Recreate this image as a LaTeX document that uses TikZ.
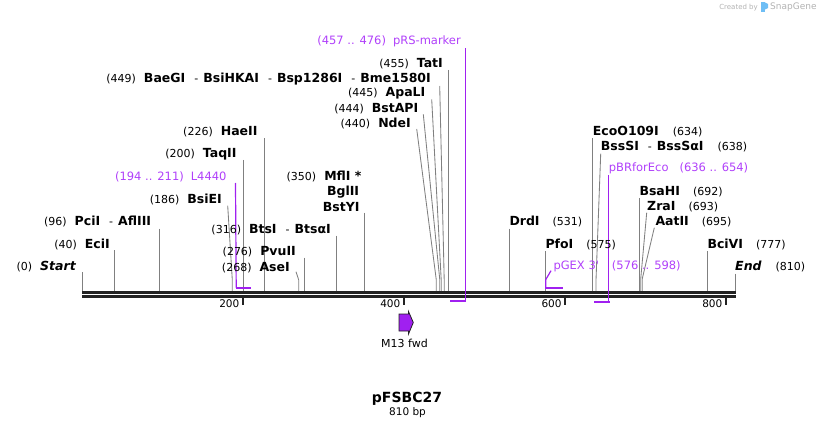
\documentclass[tikz,border=0pt]{standalone}
\usepackage{fontspec}
\setmainfont{DejaVu Sans}
\usepackage{xcolor}
\usepackage{tikz}
\usetikzlibrary{calc}

\definecolor{bbgray}{RGB}{34,34,34}
\definecolor{cutgray}{RGB}{128,128,128}
\definecolor{featpurple}{RGB}{160,32,240}
\definecolor{feattext}{RGB}{176,64,250}
\definecolor{wmgray}{RGB}{178,178,178}
\definecolor{wmblue}{RGB}{110,190,245}

\newcommand{\enz}[1]{{\fontsize{12.5}{14}\selectfont\bfseries #1}}

\begin{document}
\begin{tikzpicture}[x=1pt,y=-1pt,line cap=butt,line join=miter,
  bb/.style={draw=bbgray,line width=2.6pt},
  tick/.style={draw=bbgray,line width=2pt},
  cut/.style={draw=cutgray,line width=0.85pt},
  feat/.style={draw=featpurple,line width=1.2pt},
  featbar/.style={draw=featpurple,line width=2.2pt},
  lab/.style={inner sep=0pt,font=\fontsize{11}{13}\selectfont},
  flab/.style={inner sep=0pt,text=feattext,font=\fontsize{11.5}{13}\selectfont},
  num/.style={inner sep=0pt,font=\fontsize{10.5}{12}\selectfont}]

\useasboundingbox (0,0) rectangle (818,430);

%\node at (409,215) {frame};
% SnapGene mark
\node[inner sep=0pt,anchor=east,text=wmgray,font=\fontsize{7}{8}\selectfont] (wm1) at (758,7.5) {Created by};
\fill[wmblue] (761,2.5) rectangle (765,12.5);
\fill[wmblue] (765,2.5) -- (768,4) -- (768,8) -- (765,9.5) -- cycle;
\node[inner sep=0pt,anchor=west,text=wmgray,font=\fontsize{9}{10}\selectfont] (wm2) at (770,7.5) {SnapGene};

% cut site lines, left
\coordinate (Start-t) at (82,272);   \coordinate (Start) at (82,291);
\coordinate (EciI-t) at (114.3,250); \coordinate (EciI) at (114.3,291);
\coordinate (PciI-t) at (159.3,228.7); \coordinate (PciI) at (159.3,291);
\coordinate (BsiEI-t) at (227.7,205.7); \coordinate (BsiEI-k) at (232.3,280); \coordinate (BsiEI) at (232.3,291);
\coordinate (TaqII-t) at (243,160);  \coordinate (TaqII) at (243,291);
\coordinate (HaeII-t) at (264.3,138.3); \coordinate (HaeII) at (264.3,291);
\coordinate (AseI-t) at (296,271.7); \coordinate (AseI-k) at (298.7,280); \coordinate (AseI) at (298.7,291);
\coordinate (PvuII-t) at (304.3,257.7); \coordinate (PvuII) at (304.3,291);
\coordinate (BtsI-t) at (336.3,235.7); \coordinate (BtsI) at (336.3,291);
\coordinate (MflI-t) at (364.3,212.7); \coordinate (MflI) at (364.3,291);
\coordinate (NdeI-t) at (416.7,129); \coordinate (NdeI-k) at (436.3,280); \coordinate (NdeI) at (436.3,291);
\coordinate (BstAPI-t) at (423.3,114.3); \coordinate (BstAPI-k) at (439.8,280); \coordinate (BstAPI) at (439.8,291);
\coordinate (ApaLI-t) at (431.7,99.3); \coordinate (ApaLI-k) at (441.2,280); \coordinate (ApaLI) at (441.2,291);
\coordinate (BaeGI-t) at (439.7,86); \coordinate (BaeGI-k) at (444.2,280); \coordinate (BaeGI) at (444.2,291);
\coordinate (TatI-t) at (448.3,70);  \coordinate (TatI) at (448.3,291);
% cut site lines, right
\coordinate (DrdI-t) at (509.3,228.7); \coordinate (DrdI) at (509.3,291);
\coordinate (PfoI-t) at (545.5,251); \coordinate (PfoI) at (545.5,291);
\coordinate (EcoO-t) at (592.7,138.3); \coordinate (EcoO) at (592.7,291);
\coordinate (BssSI-t) at (600.7,153.7); \coordinate (BssSI-k) at (596,280); \coordinate (BssSI) at (596,291);
\coordinate (BsaHI-t) at (639.7,198.3); \coordinate (BsaHI) at (639.7,291);
\coordinate (ZraI-t) at (646.7,212.7); \coordinate (ZraI-k) at (640.7,279); \coordinate (ZraI) at (640.7,291);
\coordinate (AatII-t) at (654.3,227.7); \coordinate (AatII-k) at (642.2,279); \coordinate (AatII) at (642.2,291);
\coordinate (BciVI-t) at (707.3,251); \coordinate (BciVI) at (707.3,291);
\coordinate (End-t) at (735,273.7);  \coordinate (End) at (735,291);

\draw[cut] (Start-t) -- (Start);
\draw[cut] (EciI-t) -- (EciI);
\draw[cut] (PciI-t) -- (PciI);
\draw[cut] (BsiEI-t) -- (BsiEI-k) -- (BsiEI);
\draw[cut] (TaqII-t) -- (TaqII);
\draw[cut] (HaeII-t) -- (HaeII);
\draw[cut] (AseI-t) -- (AseI-k) -- (AseI);
\draw[cut] (PvuII-t) -- (PvuII);
\draw[cut] (BtsI-t) -- (BtsI);
\draw[cut] (MflI-t) -- (MflI);
\draw[cut] (NdeI-t) -- (NdeI-k) -- (NdeI);
\draw[cut] (BstAPI-t) -- (BstAPI-k) -- (BstAPI);
\draw[cut] (ApaLI-t) -- (ApaLI-k) -- (ApaLI);
\draw[cut] (BaeGI-t) -- (BaeGI-k) -- (BaeGI);
\draw[cut] (TatI-t) -- (TatI);
\draw[cut] (DrdI-t) -- (DrdI);
\draw[cut] (PfoI-t) -- (PfoI);
\draw[cut] (EcoO-t) -- (EcoO);
\draw[cut] (BssSI-t) -- (BssSI-k) -- (BssSI);
\draw[cut] (BsaHI-t) -- (BsaHI);
\draw[cut] (ZraI-t) -- (ZraI-k) -- (ZraI);
\draw[cut] (AatII-t) -- (AatII-k) -- (AatII);
\draw[cut] (BciVI-t) -- (BciVI);
\draw[cut] (End-t) -- (End);

% backbone and ruler
\draw[bb] (82,292.3) -- (736,292.3);
\draw[bb] (82,296.2) -- (736,296.2);
\foreach \t/\x in {200/243,400/404,600/565.3,800/726}{
  \draw[tick] (\x,297) -- (\x,304.5);
  \node[num,anchor=east] (tick\t) at (\x-3.5,304) {\t};
}

% features
\draw[feat] (235.5,183) -- (236.2,287.7);
\draw[featbar] (235.6,287.7) -- (250.7,287.7);
\draw[feat] (465.3,48.3) -- (465.3,300.7);
\draw[featbar] (450,300.7) -- (466.4,300.7);
\draw[feat] (551,270.7) -- (545.8,279.5) -- (545.8,287.7);
\draw[featbar] (545.2,287.7) -- (562.7,287.7);
\draw[feat] (608.7,175) -- (608.7,301.7);
\draw[featbar] (594.3,301.7) -- (609.8,301.7);

% M13 fwd primer
\draw[fill=featpurple,draw=bbgray,line width=0.8pt] (399,314) -- (408.5,314) -- (408.5,311.5) -- (413.3,322.5) -- (408.5,334) -- (408.5,331) -- (399,331) -- cycle;
\node[lab] (M13) at (404.5,343.5) {M13 fwd};

% labels, left of sites
\node[flab,anchor=east] (pRS-l) at (461,41) {(457 .. 476)\hspace{7pt}pRS-marker};
\node[lab,anchor=east] (TatI-l) at (443,63.5) {(455)\hspace{8pt}\enz{TatI}};
\node[lab,anchor=east] (BaeGI-l) at (431,79) {(449)\hspace{8pt}\enz{BaeGI}\hspace{9pt}-\hspace{5pt}\enz{BsiHKAI}\hspace{9pt}-\hspace{5pt}\enz{Bsp1286I}\hspace{9pt}-\hspace{5pt}\enz{Bme1580I}};
\node[lab,anchor=east] (ApaLI-l) at (425.5,93.5) {(445)\hspace{8pt}\enz{ApaLI}};
\node[lab,anchor=east] (BstAPI-l) at (418.5,108.7) {(444)\hspace{8pt}\enz{BstAPI}};
\node[lab,anchor=east] (NdeI-l) at (411,123) {(440)\hspace{8pt}\enz{NdeI}};
\node[lab,anchor=east] (HaeII-l) at (257.7,131.7) {(226)\hspace{8pt}\enz{HaeII}};
\node[lab,anchor=east] (TaqII-l) at (236.7,154) {(200)\hspace{8pt}\enz{TaqII}};
\node[flab,anchor=east] (L4440-l) at (226.7,176.7) {(194 .. 211)\hspace{7pt}L4440};
\node[lab,anchor=east] (BsiEI-l) at (222,199.3) {(186)\hspace{8pt}\enz{BsiEI}};
\node[lab,anchor=east] (PciI-l) at (151.3,221.7) {(96)\hspace{8pt}\enz{PciI}\hspace{9pt}-\hspace{5pt}\enz{AflIII}};
\node[lab,anchor=east] (EciI-l) at (110,244) {(40)\hspace{8pt}\enz{EciI}};
\node[lab,anchor=east] (Start-l) at (76,266.7) {(0)\hspace{8pt}\enz{\itshape Start}};
\node[lab,anchor=east] (BtsI-l) at (331,229.3) {(316)\hspace{8pt}\enz{BtsI}\hspace{9pt}-\hspace{5pt}\enz{BtsαI}};
\node[lab,anchor=east] (PvuII-l) at (296,251.7) {(276)\hspace{8pt}\enz{PvuII}};
\node[lab,anchor=east] (AseI-l) at (290,267.3) {(268)\hspace{8pt}\enz{AseI}};
\node[lab,anchor=east] (MflI-l) at (361.7,176.7) {(350)\hspace{8pt}\enz{MflI *}};
\node[lab,anchor=east] (BglII-l) at (359.3,191.7) {\enz{BglII}};
\node[lab,anchor=east] (BstYI-l) at (359.7,206.7) {\enz{BstYI}};

% labels, right of sites
\node[lab,anchor=west] (EcoO-l) at (592.7,131.7) {\enz{EcoO109I}\hspace{14pt}(634)};
\node[lab,anchor=west] (BssSI-l) at (600.7,146.7) {\enz{BssSI}\hspace{9pt}-\hspace{5pt}\enz{BssSαI}\hspace{14pt}(638)};
\node[flab,anchor=west] (pBR-l) at (608.7,168.7) {pBRforEco\hspace{11pt}(636 .. 654)};
\node[lab,anchor=west] (BsaHI-l) at (639.3,191.7) {\enz{BsaHI}\hspace{13pt}(692)};
\node[lab,anchor=west] (ZraI-l) at (647,206.7) {\enz{ZraI}\hspace{13pt}(693)};
\node[lab,anchor=west] (AatII-l) at (655.3,221.7) {\enz{AatII}\hspace{13pt}(695)};
\node[lab,anchor=west] (DrdI-l) at (509.3,221.7) {\enz{DrdI}\hspace{13pt}(531)};
\node[lab,anchor=west] (PfoI-l) at (545.3,244) {\enz{PfoI}\hspace{13pt}(575)};
\node[flab,anchor=west] (pGEX-l) at (553.3,266.7) {pGEX 3\textquotesingle\hspace{13pt}(576 .. 598)};
\node[lab,anchor=west] (BciVI-l) at (707.3,244) {\enz{BciVI}\hspace{13pt}(777)};
\node[lab,anchor=west] (End-l) at (735,266.7) {\enz{\itshape End}\hspace{14pt}(810)};

% name and size
\node[inner sep=0pt,font=\fontsize{14}{16}\selectfont\bfseries] (title) at (407,398.5) {pFSBC27};
\node[num] (size) at (407.5,413) {810 bp};
\end{tikzpicture}
\end{document}
